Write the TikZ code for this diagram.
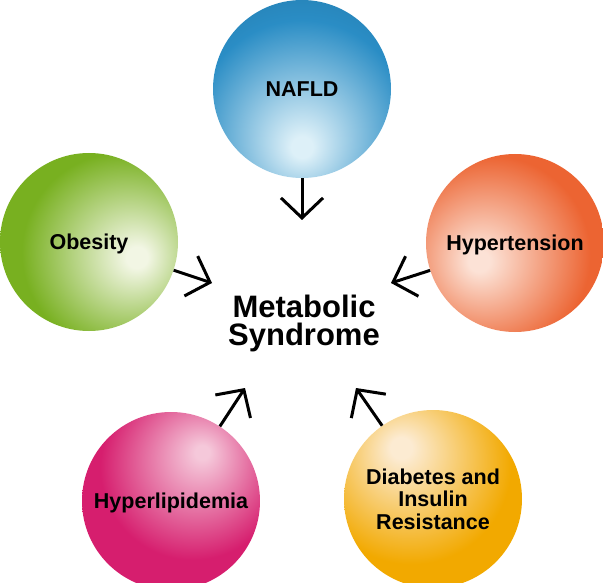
\documentclass[tikz,border=0pt]{standalone}
\usepackage{fontspec}
\setmainfont{Liberation Sans}
\usetikzlibrary{arrows.meta}
\definecolor{nafldC}{HTML}{2A8DC5}
\definecolor{nafldH}{HTML}{DDF0F8}
\definecolor{obesC}{HTML}{78B020}
\definecolor{obesH}{HTML}{F2F6E4}
\definecolor{hyptC}{HTML}{EC6432}
\definecolor{hyptH}{HTML}{FCE2D6}
\definecolor{lipC}{HTML}{D61E6E}
\definecolor{lipH}{HTML}{F5C8DA}
\definecolor{diabC}{HTML}{F2A900}
\definecolor{diabH}{HTML}{FCEBD2}
\pgfdeclareradialshading{nafldshade}{\pgfpoint{0bp}{-17bp}}{color(0bp)=(nafldH); color(3bp)=(nafldH); color(30bp)=(nafldC); color(42bp)=(nafldC!88!black); color(80bp)=(nafldC!88!black)}
\pgfdeclareradialshading{obesshade}{\pgfpoint{14bp}{-4.5bp}}{color(0bp)=(obesH); color(3bp)=(obesH); color(28bp)=(obesC); color(80bp)=(obesC)}
\pgfdeclareradialshading{hyptshade}{\pgfpoint{-10.5bp}{-5.3bp}}{color(0bp)=(hyptH); color(3bp)=(hyptH); color(28bp)=(hyptC); color(80bp)=(hyptC)}
\pgfdeclareradialshading{lipshade}{\pgfpoint{9bp}{14bp}}{color(0bp)=(lipH); color(2bp)=(lipH); color(26bp)=(lipC); color(80bp)=(lipC)}
\pgfdeclareradialshading{diabshade}{\pgfpoint{-9.3bp}{14.9bp}}{color(0bp)=(diabH); color(3bp)=(diabH); color(28bp)=(diabC); color(80bp)=(diabC)}
\begin{document}
\begin{tikzpicture}[x=1pt,y=-1pt,
  ball/.style={circle, minimum size=178pt, inner sep=0pt,
    font=\fontsize{21.5}{22.5}\selectfont\bfseries, align=center},
  oneline/.style={text depth=0pt},
  link/.style={line width=3pt, -{Straight Barb[length=20pt,width=42pt]}},
  title/.style={font=\fontsize{31}{28}\selectfont\bfseries, align=center, inner sep=0pt}]
\useasboundingbox (0,0) rectangle (603,583);
\clip (0,0) rectangle (603,583);
\node[ball, oneline, shading=nafldshade] (nafld) at (302,89) {NAFLD};
\node[ball, oneline, shading=obesshade] (obes) at (89,242) {Obesity};
\node[ball, oneline, shading=hyptshade] (hypt) at (515,243) {Hypertension};
\node[ball, oneline, shading=lipshade] (lip) at (171,501) {Hyperlipidemia};
\node[ball, shading=diabshade] (diab) at (433,499) {Diabetes and\\Insulin\\Resistance};
\node[title] (ms) at (304,323) {Metabolic\\Syndrome};
\coordinate (tN) at (302,220);
\coordinate (tO) at (212,283);
\coordinate (tH) at (391,283);
\coordinate (tL) at (245,388);
\coordinate (tD) at (356,388);
\draw[link] (nafld) -- (tN);
\draw[link] (obes) -- (tO);
\draw[link] (hypt) -- (tH);
\draw[link] (lip) -- (tL);
\draw[link] (diab) -- (tD);
\end{tikzpicture}
\end{document}
